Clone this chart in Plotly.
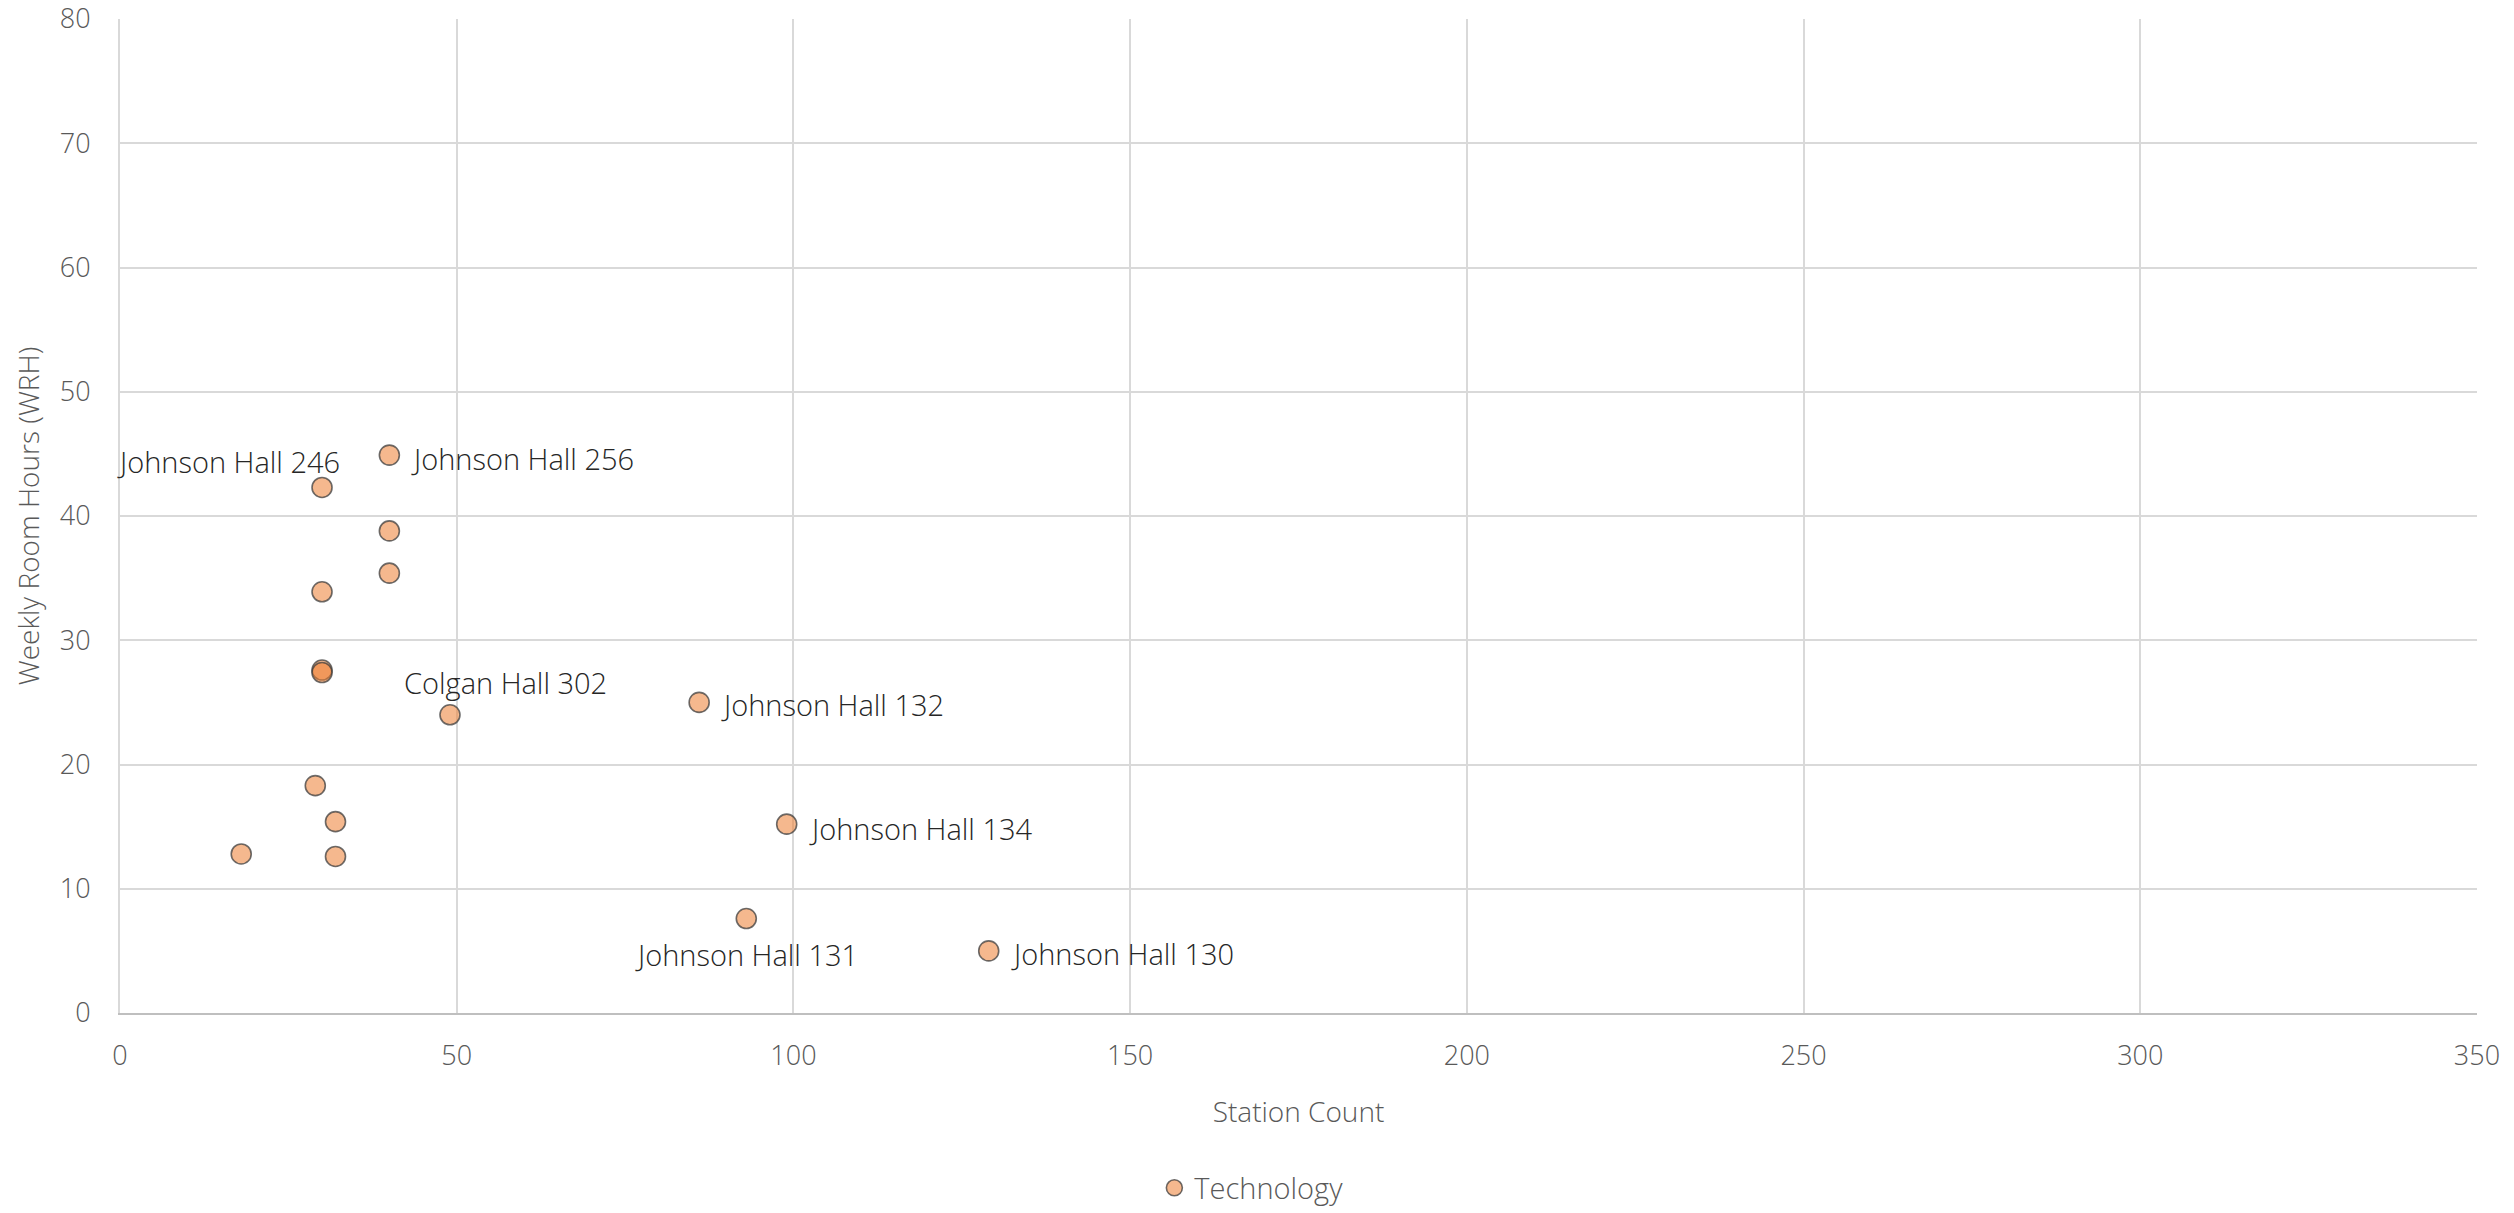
import plotly.graph_objects as go

# ---- data ----
station_count = [18, 29, 30, 30, 30, 30, 32, 32, 40, 40, 40, 49, 86, 99, 93, 129]
weekly_room_hours = [12.8, 18.3, 42.3, 33.9, 27.6, 27.4, 15.4, 12.6, 44.9, 38.8, 35.4, 24.0, 25.0, 15.2, 7.6, 5.0]
room_labels = ["", "", "Johnson Hall 246", "", "", "", "", "", "Johnson Hall 256", "", "",
               "Colgan Hall 302", "Johnson Hall 132", "Johnson Hall 134", "Johnson Hall 131", "Johnson Hall 130"]
series_name = "Technology"
x_ticks = [0, 50, 100, 150, 200, 250, 300, 350]
y_ticks = [0, 10, 20, 30, 40, 50, 60, 70, 80]

# label placement (style only)
placement = {
    "Johnson Hall 246": dict(xanchor="center", yanchor="middle", xshift=-94, yshift=26),
    "Johnson Hall 256": dict(xanchor="left", yanchor="middle", xshift=20, yshift=-3),
    "Colgan Hall 302": dict(xanchor="center", yanchor="middle", xshift=56, yshift=32),
    "Johnson Hall 132": dict(xanchor="left", yanchor="middle", xshift=20, yshift=-2),
    "Johnson Hall 134": dict(xanchor="left", yanchor="middle", xshift=20, yshift=-4),
    "Johnson Hall 131": dict(xanchor="center", yanchor="middle", xshift=0, yshift=-36),
    "Johnson Hall 130": dict(xanchor="left", yanchor="middle", xshift=20, yshift=-3),
}

FONT = "Open Sans"
GRID = "#d9d9d9"
TXT = "#595959"

fig = go.Figure()
fig.add_trace(go.Scatter(
    x=station_count, y=weekly_room_hours, mode="markers", name=series_name,
    marker=dict(size=20, color="rgba(237,125,49,0.55)",
                line=dict(color="rgba(60,60,60,0.75)", width=1.6)),
    showlegend=True,
))

annotations = []
for xv, yv, lab in zip(station_count, weekly_room_hours, room_labels):
    if not lab:
        continue
    p = placement[lab]
    annotations.append(dict(x=xv, y=yv, xref="x", yref="y", text=lab, showarrow=False,
                            font=dict(family=FONT, size=29, color="#262626", weight=300),
                            **p))

fig.update_layout(
    width=2514, height=1213,
    margin=dict(l=120, r=37, t=19, b=200, autoexpand=False),
    paper_bgcolor="white", plot_bgcolor="white",
    font=dict(family=FONT, color=TXT, weight=300),
    annotations=annotations,
    showlegend=True,
    legend=dict(orientation="h", x=0.48, xanchor="center", y=-0.176, yanchor="middle",
                font=dict(family=FONT, size=29, color=TXT, weight=300), itemsizing="trace"),
    xaxis=dict(range=[0, 350.001], tickvals=x_ticks, showgrid=True, gridcolor=GRID, gridwidth=2,
               zeroline=False, showline=True, linecolor="#bfbfbf", linewidth=2, mirror=False,
               ticks="", tickfont=dict(family=FONT, size=27, color=TXT, weight=300),
               ticklabelstandoff=18, automargin=False, ticklabeloverflow="allow",
               title=dict(text="Station Count", font=dict(family=FONT, size=28, color=TXT, weight=300),
                          standoff=30)),
    yaxis=dict(range=[0, 80.001], tickvals=y_ticks, showgrid=True, gridcolor=GRID, gridwidth=2,
               zeroline=False, showline=True, linecolor=GRID, linewidth=2,
               ticks="", tickfont=dict(family=FONT, size=27, color=TXT, weight=300),
               ticklabelstandoff=22, automargin=False, ticklabeloverflow="allow",
               title=dict(text="Weekly Room Hours (WRH)", font=dict(family=FONT, size=28, color=TXT, weight=300),
                          standoff=12)),
)

fig.write_html("out.html", config={"displayModeBar": False},
               post_script="document.body.style.margin='0';")
